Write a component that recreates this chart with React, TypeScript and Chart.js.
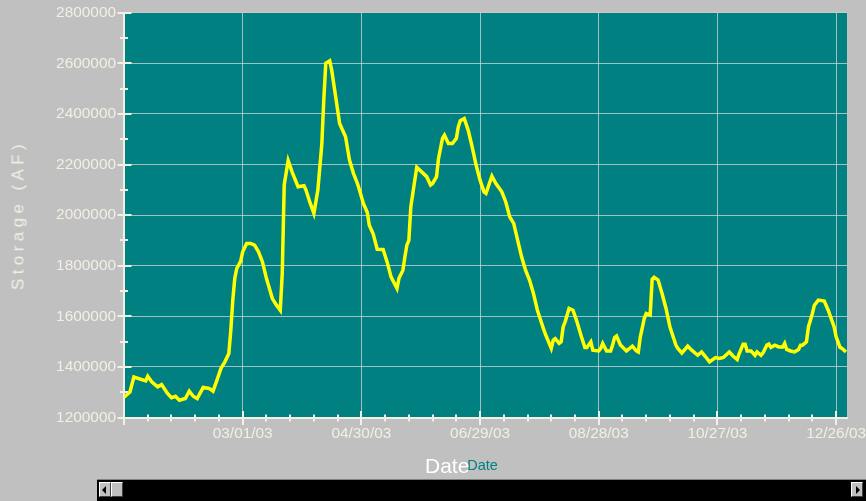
import React, { useEffect, useRef } from 'react';
import { Chart, registerables } from 'chart.js';

Chart.register(...registerables);

// Days counted from Jan 1, 2003 (day 0)
const dayOffsets = [
  -1, 2, 4, 10, 11, 13, 16, 18, 21, 23, 25, 27, 30, 32, 34, 36, 39, 42, 44, 46,
  48, 50, 52, 53, 54, 55, 56, 58, 59, 61, 63, 65, 67, 69, 71, 74, 76, 78, 79, 80,
  82, 84, 87, 90, 91, 93, 95, 97, 99, 100, 101, 103, 104, 106, 108, 111, 113, 115, 117, 118,
  120, 122, 123, 125, 127, 130, 132, 134, 137, 138, 140, 141, 142, 143, 144, 146, 147, 150, 152, 154,
  155, 157, 158, 160, 161, 163, 165, 167, 168, 169, 171, 173, 175, 177, 179, 181, 182, 184, 185, 187,
  190, 192, 194, 196, 198, 200, 202, 204, 206, 208, 211, 212, 215, 216, 217, 219, 220, 221, 222, 224,
  226, 228, 230, 232, 233, 235, 236, 239, 240, 241, 243, 245, 246, 247, 248, 250, 251, 253, 256, 258,
  259, 260, 262, 263, 265, 266, 267, 269, 271, 273, 275, 278, 279, 281, 284, 286, 288, 289, 291, 293,
  295, 298, 300, 302, 305, 307, 309, 310, 312, 313, 314, 316, 318, 319, 321, 322, 324, 325, 326, 328,
  330, 332, 333, 334, 336, 338, 340, 341, 342, 344, 345, 347, 348, 350, 353, 355, 358, 359, 361, 362,
  364,
];

const storageAF = [
  1280000, 1301000, 1360000, 1345000, 1363000, 1341000, 1321000, 1330000, 1295000, 1278000,
  1284000, 1268000, 1275000, 1304000, 1284000, 1275000, 1319000, 1315000, 1304000, 1348000,
  1394000, 1420000, 1453000, 1545000, 1664000, 1750000, 1789000, 1818000, 1855000, 1888000,
  1888000, 1881000, 1855000, 1815000, 1750000, 1670000, 1645000, 1624000, 1770000, 2120000,
  2215000, 2170000, 2112000, 2116000, 2099000, 2050000, 2007000, 2099000, 2280000, 2455000,
  2600000, 2610000, 2573000, 2468000, 2362000, 2310000, 2217000, 2165000, 2125000, 2100000,
  2046000, 2010000, 1960000, 1925000, 1865000, 1864000, 1815000, 1756000, 1710000, 1750000,
  1782000, 1835000, 1881000, 1900000, 2033000, 2138000, 2189000, 2167000, 2152000, 2119000,
  2125000, 2152000, 2224000, 2303000, 2316000, 2283000, 2283000, 2303000, 2349000, 2373000,
  2382000, 2336000, 2270000, 2198000, 2138000, 2092000, 2086000, 2132000, 2154000, 2125000,
  2092000, 2052000, 1993000, 1967000, 1901000, 1835000, 1782000, 1743000, 1690000, 1624000,
  1552000, 1530000, 1473000, 1506000, 1512000, 1493000, 1499000, 1558000, 1578000, 1631000,
  1624000, 1578000, 1525000, 1477000, 1477000, 1499000, 1466000, 1463000, 1473000, 1493000,
  1463000, 1463000, 1486000, 1516000, 1522000, 1486000, 1479000, 1463000, 1482000, 1463000,
  1459000, 1518000, 1591000, 1611000, 1605000, 1746000, 1754000, 1743000, 1690000, 1631000,
  1558000, 1486000, 1473000, 1455000, 1482000, 1466000, 1453000, 1446000, 1459000, 1440000,
  1420000, 1437000, 1433000, 1437000, 1459000, 1442000, 1429000, 1453000, 1490000, 1490000,
  1463000, 1463000, 1446000, 1459000, 1446000, 1455000, 1486000, 1490000, 1477000, 1486000,
  1479000, 1479000, 1493000, 1469000, 1463000, 1459000, 1469000, 1486000, 1486000, 1499000,
  1558000, 1611000, 1644000, 1664000, 1660000, 1624000, 1558000, 1519000, 1477000, 1473000,
  1459000,
];

const majorTickDays = [59, 119, 179, 239, 299, 359];
const xTickLabels = ['03/01/03', '04/30/03', '06/29/03', '08/28/03', '10/27/03', '12/26/03'];

const X_MIN = -1;
const X_MAX = 364.5;
const X_MINOR_STEP = 12;
const Y_MIN = 1200000;
const Y_MAX = 2800000;
const Y_MINOR_STEP = 100000;
const Y_MAJOR_STEP = 200000;

const LABEL_COLOR = '#f2efe4';
const GRID_COLOR = 'rgba(215,215,215,0.75)';
const PLOT_BG = '#008080';
const FONT = '"Liberation Sans", Arial, sans-serif';

const plotBg = {
  id: 'plotBg',
  beforeDraw(chart: any) {
    const { ctx, chartArea: a } = chart;
    ctx.save();
    ctx.fillStyle = PLOT_BG;
    ctx.fillRect(a.left, a.top, a.right - a.left, a.bottom - a.top);
    ctx.restore();
  },
};

const crossTicks = {
  id: 'crossTicks',
  afterDraw(chart: any) {
    const { ctx, chartArea: a } = chart;
    const xs = chart.scales.x;
    const ys = chart.scales.y;
    ctx.save();
    ctx.strokeStyle = LABEL_COLOR;
    ctx.lineWidth = 2;
    ctx.beginPath();
    xs.ticks.forEach((t: any, i: number) => {
      const px = Math.round(xs.getPixelForValue(t.value));
      const major = i === 0 || majorTickDays.includes(t.value);
      ctx.moveTo(px, a.bottom - (major ? 6.5 : 3));
      ctx.lineTo(px, a.bottom + (major ? 7.5 : 4));
    });
    ys.ticks.forEach((t: any) => {
      const py = Math.round(ys.getPixelForValue(t.value));
      const major = t.value % Y_MAJOR_STEP === 0;
      ctx.moveTo(a.left - (major ? 6.5 : 4), py);
      ctx.lineTo(a.left + (major ? 7.5 : 4), py);
    });
    ctx.stroke();
    ctx.restore();
  },
};

function ChartCanvas() {
  const ref = useRef<HTMLCanvasElement | null>(null);
  useEffect(() => {
    if (!ref.current) return;
    const points = dayOffsets.map((d, i) => ({ x: d, y: storageAF[i] }));
    const chart = new Chart(ref.current, {
      type: 'line',
      data: {
        datasets: [
          {
            label: 'Storage',
            data: points,
            borderColor: '#ffff00',
            borderWidth: 3.5,
            pointRadius: 0,
            tension: 0,
            fill: false,
          },
        ],
      },
      options: {
        animation: false,
        responsive: false,
        events: [],
        layout: { padding: { left: 0, top: 12.7, right: 19, bottom: 0 } },
        plugins: { legend: { display: false }, tooltip: { enabled: false }, title: { display: false } },
        scales: {
          x: {
            type: 'linear',
            min: X_MIN,
            max: X_MAX,
            afterBuildTicks(scale: any) {
              const ticks = [];
              for (let v = X_MIN; v <= X_MAX; v += X_MINOR_STEP) ticks.push({ value: v });
              scale.ticks = ticks;
            },
            afterFit(scale: any) {
              scale.height = 501 - 417.5;
              scale.paddingLeft = 0;
              scale.paddingRight = 0;
            },
            grid: {
              drawTicks: false,
              lineWidth: 1,
              color: (ctx: any) =>
                ctx.tick && majorTickDays.includes(ctx.tick.value) ? GRID_COLOR : 'rgba(0,0,0,0)',
            },
            border: { display: true, color: LABEL_COLOR, width: 2 },
            ticks: {
              autoSkip: false,
              maxRotation: 0,
              minRotation: 0,
              padding: 7,
              color: LABEL_COLOR,
              font: { family: FONT, size: 15.4 },
              callback: (value: any) => {
                const idx = majorTickDays.indexOf(Number(value));
                return idx >= 0 ? xTickLabels[idx] : '';
              },
            },
          },
          y: {
            type: 'linear',
            min: Y_MIN,
            max: Y_MAX,
            afterFit(scale: any) {
              scale.width = 124;
              scale.paddingTop = 0;
              scale.paddingBottom = 0;
            },
            grid: {
              drawTicks: false,
              lineWidth: 1,
              color: (ctx: any) =>
                ctx.tick && ctx.tick.value % Y_MAJOR_STEP === 0 && ctx.tick.value !== Y_MIN
                  ? GRID_COLOR
                  : 'rgba(0,0,0,0)',
            },
            border: { display: true, color: LABEL_COLOR, width: 2 },
            ticks: {
              stepSize: Y_MINOR_STEP,
              autoSkip: false,
              padding: 8,
              color: LABEL_COLOR,
              font: { family: FONT, size: 15.4 },
              callback: (value: any) => (Number(value) % Y_MAJOR_STEP === 0 ? String(value) : ''),
            },
          },
        },
      },
      plugins: [plotBg, crossTicks],
    } as any);
    return () => chart.destroy();
  }, []);
  return <canvas ref={ref} width={866} height={501} style={{ display: 'block', width: 866, height: 501 }} />;
}

const btn: React.CSSProperties = {
  position: 'absolute',
  top: 482,
  height: 15,
  boxSizing: 'border-box',
  background: '#c0c0c0',
  borderTop: '1px solid #ffffff',
  borderLeft: '1px solid #ffffff',
  borderRight: '1px solid #404040',
  borderBottom: '1px solid #404040',
};

export default function App() {
  return (
    <div
      style={{
        position: 'absolute',
        left: 0,
        top: 0,
        width: 866,
        height: 501,
        background: '#c0c0c0',
        overflow: 'hidden',
        fontFamily: FONT,
      }}
    >
      <ChartCanvas />
      <div
        style={{
          position: 'absolute',
          left: 18,
          top: 215,
          transform: 'translate(-50%, -50%) rotate(-90deg)',
          whiteSpace: 'nowrap',
          fontSize: 17,
          lineHeight: '17px',
          letterSpacing: '4.4px',
          color: LABEL_COLOR,
        }}
      >
        Storage (AF)
      </div>
      <div
        style={{
          position: 'absolute',
          left: 467.3,
          top: 457.7,
          fontSize: 14.5,
          lineHeight: '14.5px',
          color: '#008080',
          whiteSpace: 'nowrap',
        }}
      >
        Date
      </div>
      <div
        style={{
          position: 'absolute',
          left: 425,
          top: 454.9,
          fontSize: 21,
          lineHeight: '21px',
          color: '#ffffff',
          whiteSpace: 'nowrap',
        }}
      >
        Date
      </div>
      <div
        style={{
          position: 'absolute',
          left: 97,
          top: 479,
          width: 769,
          height: 22,
          background: '#000000',
          borderTop: '1px solid #808080',
          boxSizing: 'border-box',
        }}
      />
      <div style={{ ...btn, left: 99, width: 12 }}>
        <div
          style={{
            position: 'absolute',
            left: 2,
            top: 2.5,
            width: 0,
            height: 0,
            borderTop: '4px solid transparent',
            borderBottom: '4px solid transparent',
            borderRight: '4px solid #000000',
          }}
        />
      </div>
      <div style={{ ...btn, left: 111, width: 12 }} />
      <div style={{ ...btn, left: 851, width: 12 }}>
        <div
          style={{
            position: 'absolute',
            left: 4,
            top: 2.5,
            width: 0,
            height: 0,
            borderTop: '4px solid transparent',
            borderBottom: '4px solid transparent',
            borderLeft: '4px solid #000000',
          }}
        />
      </div>
    </div>
  );
}
